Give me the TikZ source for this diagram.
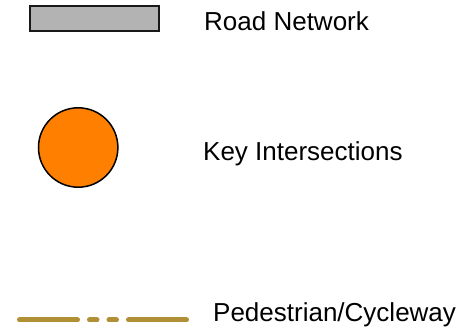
\documentclass[tikz,border=0pt]{standalone}
\usepackage{fontspec}
\setmainfont{Liberation Sans}
\definecolor{roadgray}{RGB}{179,179,179}
\definecolor{keyorange}{RGB}{255,128,0}
\definecolor{pathgold}{RGB}{176,143,53}
\begin{document}
\begin{tikzpicture}[x=1pt,y=-1pt,
  lbl/.style={anchor=base west,inner sep=0pt,font=\fontsize{26}{30}\selectfont},
  roadbox/.style={draw=black!90,line width=2pt,fill=roadgray},
  keycircle/.style={draw=black,line width=1.5pt,fill=keyorange},
  pedline/.style={draw=pathgold,line width=5pt,line cap=round,
    dash pattern=on 58pt off 12pt on 7.5pt off 12pt on 7.5pt off 12pt on 58pt}]
\useasboundingbox (0,0) rectangle (467,334);
\draw[roadbox] (30,6) rectangle (159,31);
\node[lbl] (t1) at (204,30.5) {Road Network};
\draw[keycircle] (78.2,147.5) circle (39.7);
\node[lbl] (t2) at (203,160.5) {Key Intersections};
\draw[pedline] (19.5,320) -- (186.5,320);
\node[lbl] (t3) at (213,322) {Pedestrian/Cycleway};
\end{tikzpicture}
\end{document}
